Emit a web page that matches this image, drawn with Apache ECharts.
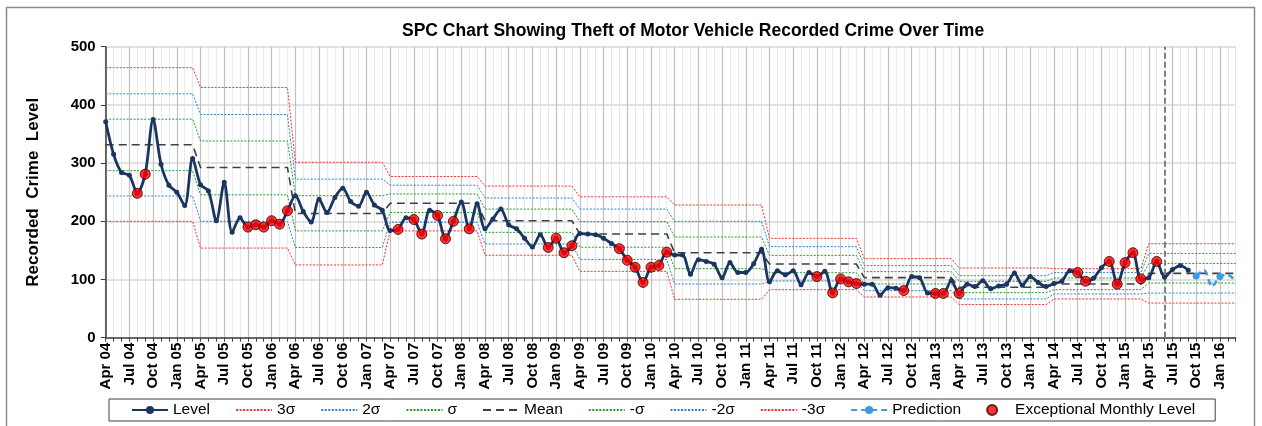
<!DOCTYPE html>
<html>
<head>
<meta charset="utf-8">
<script src="https://cdn.jsdelivr.net/npm/echarts@6/dist/echarts.min.js"></script>
<style>
  html, body { margin: 0; padding: 0; background: #fff; }
  #chart { width: 1262px; height: 426px; }
</style>
</head>
<body>
<div id="chart"></div>
<script>
// months Apr 04 .. Mar 16
const monthNames = ['Jan', 'Feb', 'Mar', 'Apr', 'May', 'Jun', 'Jul', 'Aug', 'Sep', 'Oct', 'Nov', 'Dec']
const months = []
for (let k = 0; k < 144; k++) {
  const m = (3 + k) % 12
  const y = 4 + Math.floor((3 + k) / 12)
  months.push(monthNames[m] + ' ' + String(y).padStart(2, '0'))
}

// monthly recorded crime level (Apr 04 - Sep 15)
const level = [
  371, 315, 284, 279, 248, 281, 375, 298, 262, 250, 227, 308,
  263, 252, 201, 267, 181, 206, 190, 194, 190, 201, 195, 218,
  244, 217, 199, 238, 215, 241, 257, 234, 226, 250, 228, 219,
  184, 186, 206, 203, 178, 219, 210, 170, 200, 233, 187, 230,
  187, 204, 221, 194, 187, 171, 156, 177, 155, 171, 146, 158,
  179, 178, 177, 171, 162, 153, 133, 121, 95, 121, 124, 147,
  142, 142, 109, 134, 131, 126, 103, 129, 112, 112, 127, 152,
  96, 115, 108, 115, 91, 112, 105, 114, 77, 101, 96, 93,
  92, 92, 73, 86, 85, 81, 105, 103, 77, 76, 76, 98,
  76, 92, 88, 98, 84, 89, 92, 111, 90, 105, 95, 88,
  93, 97, 115, 112, 97, 102, 120, 131, 92, 129, 146, 101,
  103, 131, 104, 117, 124, 116
]
// prediction Oct 15 - Mar 16
const predStart = 138
const prediction = [106, 116, 88, 105, 108, 97]
// months flagged as exceptional (index into level)
const exceptionalIdx = [4, 5, 18, 19, 20, 21, 22, 23, 37, 39, 40, 42, 43, 44, 46,
  56, 57, 58, 59, 65, 66, 67, 68, 69, 70, 71, 90, 92, 93, 94, 95, 101, 105, 106,
  108, 123, 124, 127, 128, 129, 130, 131, 133]

// control limits per financial year (Apr-Mar), 04/05 .. 15/16
const plus3 = [464, 430, 301.5, 277, 260.5, 242, 228, 170.7, 135.8, 119.8, 118.6, 161.5]
const plus2 = [419, 383.5, 272.5, 262, 240, 221, 200, 156.4, 123.8, 106.6, 111.8, 144.8]
const plus1 = [375.5, 338, 244, 247, 221, 199.5, 173, 141.5, 113.5, 96.9, 102.6, 127.7]
const mean = [331.5, 292.5, 213.5, 231, 201, 178.3, 146, 126.6, 103.2, 86.6, 92.3, 110.5]
const minus1 = [287, 245.5, 183.5, 215, 181, 155.5, 118.6, 111.7, 92.3, 77.4, 82.5, 93.9]
const minus2 = [243.5, 200, 155, 198.5, 161, 134.5, 92.2, 97.4, 80.8, 66.6, 75.1, 76.7]
const minus3 = [200, 154, 125, 183.5, 141.7, 114, 66, 82.5, 70, 56.9, 66.5, 59.5]

const splitLine = 'Jun 15'

function monthly (yearly) {
  return months.map((m, k) => yearly[Math.floor(k / 12)])
}

const font = '"Liberation Sans", Arial, sans-serif'
const red = '#ff2a2a'
const blue = '#2f7fd0'
const green = '#1f9a2a'

function limitSeries (name, yearly, color, dash, width) {
  return {
    name: name,
    type: 'line',
    data: monthly(yearly),
    symbol: 'none',
    silent: true,
    z: 2,
    lineStyle: { color: color, width: width || 1, type: dash || [2, 1.5] },
    itemStyle: { color: color }
  }
}

const predData = months.map((m, k) => {
  const j = k - predStart
  return j >= 0 && j < prediction.length ? prediction[j] : null
})

// legend entries; the limit lines get no dot in their icon
const legendNames = ['Level', '3σ', '2σ', 'σ', 'Mean', '-σ', '-2σ', '-3σ', 'Prediction', 'Exceptional Monthly Level']
const noDot = ['3σ', '2σ', 'σ', 'Mean', '-σ', '-2σ', '-3σ']

const chart = echarts.init(document.getElementById('chart'))
chart.setOption({
  animation: false,
  textStyle: { fontFamily: font },
  title: {
    text: 'SPC Chart Showing Theft of Motor Vehicle Recorded Crime Over Time',
    left: 397,
    top: 17,
    textStyle: { fontFamily: font, fontSize: 17.5, fontWeight: 'bold', color: '#000' }
  },
  graphic: [{
    type: 'rect',
    shape: { x: 6.5, y: 7.5, width: 1248, height: 440 },
    style: { fill: 'none', stroke: '#8c8c8c', lineWidth: 1.5 },
    silent: true
  }],
  grid: { left: 105.7, right: 26.3, top: 46.7, bottom: 88.3 },
  legend: {
    left: 109,
    top: 399,
    padding: [3, 20, 3, 22],
    borderColor: '#404040',
    borderWidth: 1,
    itemGap: 25,
    itemWidth: 36,
    itemHeight: 10,
    textStyle: { fontFamily: font, fontSize: 15.5, color: '#000' },
    data: legendNames.map(n => noDot.indexOf(n) >= 0 ? { name: n, itemStyle: { opacity: 0 } } : n)
  },
  xAxis: [{
    type: 'category',
    data: months,
    boundaryGap: false,
    axisLine: { lineStyle: { color: '#404040', width: 1.5 } },
    axisTick: { show: true, interval: 0, length: 4, lineStyle: { color: '#404040' } },
    axisLabel: {
      interval: 2,
      rotate: 90,
      margin: 5,
      fontFamily: font,
      fontSize: 15,
      fontWeight: 'bold',
      color: '#000'
    },
    splitLine: { show: true, interval: 0, lineStyle: { color: '#cdd6e0', type: 'dotted', width: 1 } }
  }, {
    type: 'category',
    data: months,
    boundaryGap: false,
    position: 'bottom',
    axisLine: { show: false },
    axisTick: { show: false },
    axisLabel: { show: false },
    splitLine: { show: true, interval: 2, lineStyle: { color: '#c0c0c0', width: 1.2 } }
  }],
  yAxis: {
    type: 'value',
    min: 0,
    max: 500,
    interval: 100,
    name: 'Recorded  Crime  Level',
    nameLocation: 'middle',
    nameGap: 64,
    nameTextStyle: { fontFamily: font, fontSize: 17, fontWeight: 'bold', color: '#000' },
    axisLine: { show: true, lineStyle: { color: '#404040', width: 1.5 } },
    axisTick: { show: true, length: 5, lineStyle: { color: '#404040' } },
    axisLabel: { fontFamily: font, fontSize: 15, fontWeight: 'bold', color: '#000', margin: 10 },
    splitLine: { lineStyle: { color: '#d9d9d9', width: 1.5 } }
  },
  series: [
    limitSeries('3σ', plus3, red),
    limitSeries('2σ', plus2, blue),
    limitSeries('σ', plus1, green),
    limitSeries('Mean', mean, '#404040', [8, 5], 1.6),
    limitSeries('-σ', minus1, green),
    limitSeries('-2σ', minus2, blue),
    limitSeries('-3σ', minus3, red),
    {
      name: 'Level',
      type: 'line',
      data: level,
      smooth: 0.3,
      symbol: 'circle',
      symbolSize: 5,
      z: 5,
      lineStyle: { color: '#1a3560', width: 2.8 },
      itemStyle: { color: '#1a3560' },
      markLine: {
        silent: true,
        symbol: ['none', 'none'],
        label: { show: false },
        lineStyle: { color: '#808080', type: [6, 3], width: 2 },
        data: [{ xAxis: splitLine }]
      }
    },
    {
      name: 'Prediction',
      type: 'line',
      data: predData,
      smooth: 0.3,
      symbol: 'circle',
      symbolSize: 7,
      z: 5,
      lineStyle: { color: '#3f9ae6', width: 2.5, type: [6, 4] },
      itemStyle: { color: '#3f9ae6' }
    },
    {
      name: 'Exceptional Monthly Level',
      type: 'scatter',
      data: exceptionalIdx.map(i => [i, level[i]]),
      symbol: 'circle',
      symbolSize: 10,
      z: 6,
      itemStyle: { color: '#ff0000', borderColor: '#3a0000', borderWidth: 1 }
    }
  ]
})
</script>
</body>
</html>
